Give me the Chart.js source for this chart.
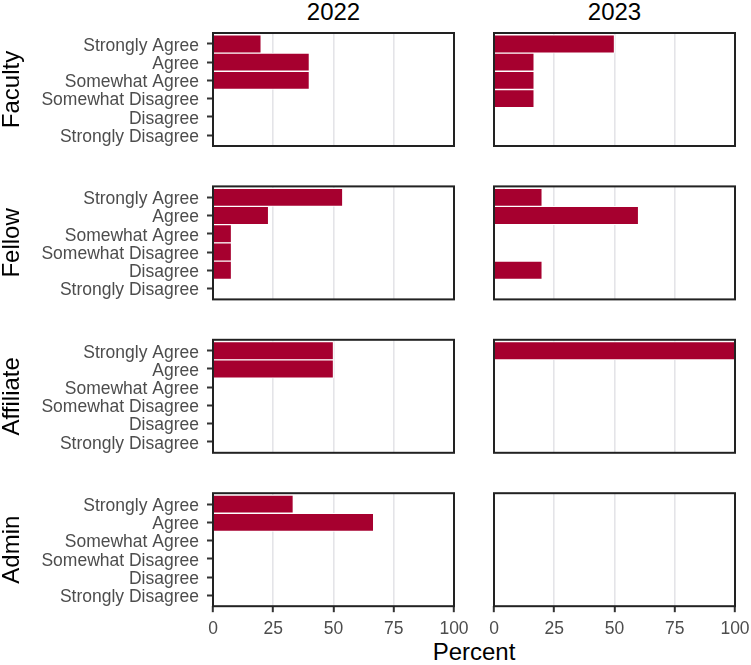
<!DOCTYPE html>
<html><head><meta charset="utf-8">
<script src="https://cdn.jsdelivr.net/npm/chart.js@4.4.1/dist/chart.umd.min.js"></script>
<style>
html,body{margin:0;padding:0;background:#fff;overflow:hidden;}
#wrap{position:relative;width:751px;height:665px;overflow:hidden;font-family:"Liberation Sans",Arial,sans-serif;}
#wrap canvas{position:absolute;}
.lbl{position:absolute;font-size:24px;line-height:24px;color:#000;white-space:nowrap;text-align:center;width:200px;}
</style></head><body>
<div id="wrap">
  <div class="lbl" style="left:233.5px;top:0px;">2022</div>
  <div class="lbl" style="left:514.5px;top:0px;">2023</div>
  <div class="lbl" style="left:374px;top:640px;">Percent</div>
</div>
<script>
// ---- data ----
const categories = ['Strongly Agree','Agree','Somewhat Agree','Somewhat Disagree','Disagree','Strongly Disagree'];
const roles = ['Faculty','Fellow','Affiliate','Admin'];
const years = ['2022','2023'];
const xTicks = [0,25,50,75,100];
const faculty2022   = [20, 40, 40, 0, 0, 0];
const faculty2023   = [50, 16.67, 16.67, 16.67, 0, 0];
const fellow2022    = [53.85, 23.08, 7.69, 7.69, 7.69, 0];
const fellow2023    = [20, 60, 0, 0, 20, 0];
const affiliate2022 = [50, 50, 0, 0, 0, 0];
const affiliate2023 = [100, 0, 0, 0, 0, 0];
const admin2022     = [33.33, 66.67, 0, 0, 0, 0];
const admin2023     = [0, 0, 0, 0, 0, 0];
const panelValues = [
  [faculty2022, faculty2023],
  [fellow2022, fellow2023],
  [affiliate2022, affiliate2023],
  [admin2022, admin2023]
];

// ---- style / layout ----
const FONT = "'Liberation Sans', Arial, sans-serif";
const BAR = '#A6002F';
const panelBorder = {
  id: 'panelBorder',
  afterDraw(chart) {
    const {ctx, chartArea: a} = chart;
    ctx.save();
    ctx.strokeStyle = '#222222';
    ctx.lineWidth = 2;
    ctx.strokeRect(a.left, a.top, a.right - a.left, a.bottom - a.top);
    ctx.restore();
  }
};

const wrap = document.getElementById('wrap');
const PANEL_H = 113;
const MARGIN = 26;

function makePanel(r, c) {
  const isBottom = r === roles.length - 1;
  const pTop = 33 + r * 153.4;
  const cTop = Math.floor(pTop) - MARGIN;
  const left = c === 0 ? 0 : 460;
  const width = c === 0 ? 480 : 320;
  const xAxisH = isBottom ? 40 : 0;
  const height = isBottom ? 665 - cTop : MARGIN * 2 + PANEL_H;
  const padTop = pTop - cTop;
  const padBottom = height - padTop - PANEL_H - xAxisH;
  const yAxisW = c === 0 ? 213 : 34;
  const padRight = c === 0 ? 480 - 454 : 320 - 275;

  const canvas = document.createElement('canvas');
  canvas.width = width; canvas.height = height;
  canvas.style.left = left + 'px';
  canvas.style.top = cTop + 'px';
  canvas.style.width = width + 'px';
  canvas.style.height = height + 'px';
  wrap.appendChild(canvas);

  const vals = panelValues[r][c];
  new Chart(canvas, {
    type: 'bar',
    data: {
      datasets: [{
        data: vals.map((v, i) => ({x: v, y: i})),
        backgroundColor: BAR,
        borderColor: '#ffffff',
        borderWidth: 1,
        barPercentage: 1,
        categoryPercentage: 1
      }]
    },
    options: {
      indexAxis: 'y',
      responsive: false,
      animation: false,
      devicePixelRatio: 1,
      layout: {padding: {top: padTop, bottom: padBottom, left: 0, right: padRight}},
      plugins: {legend: {display: false}, tooltip: {enabled: false}},
      scales: {
        x: {
          type: 'linear', min: 0, max: 100, offset: false,
          afterBuildTicks: axis => { axis.ticks = xTicks.map(v => ({value: v})); },
          afterFit: s => { s.height = xAxisH; },
          border: {display: false},
          grid: {
            offset: false,
            color: ctx => (ctx.tick && ctx.tick.value > 0 && ctx.tick.value < 100) ? '#E4E4E8' : 'rgba(0,0,0,0)',
            lineWidth: 1.6,
            drawTicks: isBottom, tickLength: 6, tickColor: '#333333', tickWidth: 2
          },
          ticks: {
            display: isBottom, autoSkip: false, maxRotation: 0, padding: 6,
            color: '#4D4D4D', font: {family: FONT, size: 17.5},
            callback: v => String(v)
          }
        },
        y: {
          type: 'linear', reverse: true, min: -0.6, max: 5.6, offset: false,
          afterBuildTicks: axis => { axis.ticks = categories.map((_, i) => ({value: i})); },
          afterFit: s => { s.width = yAxisW; },
          border: {display: false},
          grid: {
            offset: false,
            display: c === 0, drawOnChartArea: false, drawTicks: true,
            tickLength: 6, tickColor: '#333333', tickWidth: 2
          },
          ticks: {
            display: c === 0, autoSkip: false, padding: 8, labelOffset: 2,
            color: '#4D4D4D', font: {family: FONT, size: 17.5},
            callback: v => categories[v]
          },
          title: {
            display: c === 0, text: roles[r], color: '#000000',
            font: {family: FONT, size: 24}, padding: {top: -2, bottom: 0}
          }
        }
      }
    },
    plugins: [panelBorder]
  });
}

for (let r = 0; r < roles.length; r++) {
  for (let c = 0; c < years.length; c++) makePanel(r, c);
}
</script>
</body></html>
